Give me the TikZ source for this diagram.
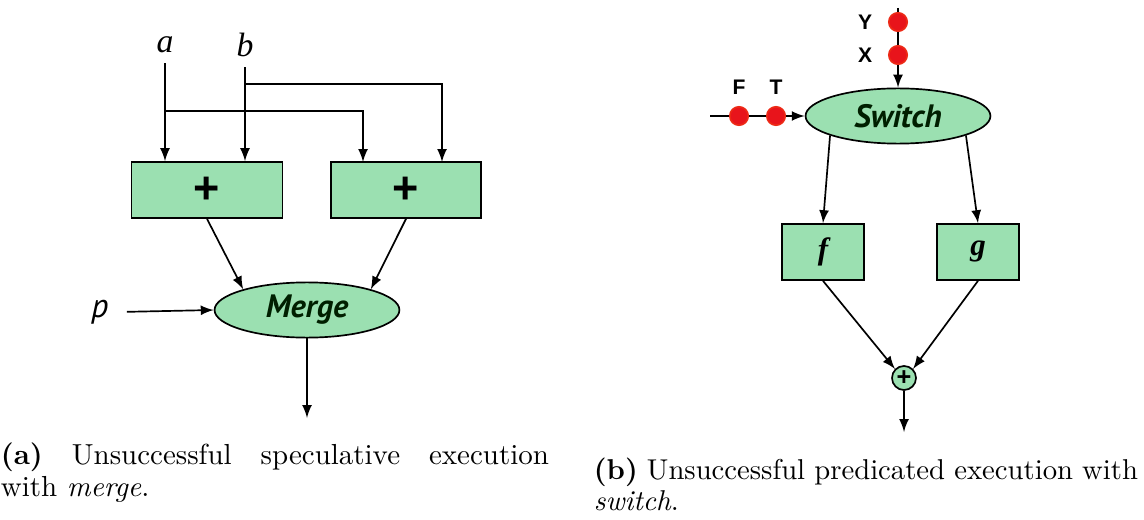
\documentclass[tikz,border=0pt]{standalone}
\usepackage{fontspec}
\usepackage{xcolor}
\usetikzlibrary{shapes.geometric}
\newfontfamily\arialfont{Liberation Sans}
\newfontfamily\timesfont{Liberation Serif}
\newfontfamily\opfont{PT Sans}
\definecolor{nodegreen}{HTML}{9BE0B1}
\definecolor{tokenred}{HTML}{E8141B}

\begin{document}
\begin{tikzpicture}[x=0.0125cm,y=-0.0125cm,line width=0.6pt,
    opbox/.style={draw,fill=nodegreen,minimum height=0.7cm,inner sep=0pt},
    opellipse/.style={draw,fill=nodegreen,ellipse,minimum width=2.31cm,minimum height=0.69cm,inner sep=0pt,text=green!12!black,font=\opfont\bfseries\itshape\fontsize{11.5}{12}\selectfont},
    token/.style={circle,fill=tokenred,draw=tokenred!80!orange,minimum size=0.23cm,inner sep=0pt},
    tokenlabel/.style={font=\arialfont\bfseries\fontsize{7.5}{8}\selectfont},
    caption/.style={anchor=north west,inner sep=0pt,align=justify}]
        \useasboundingbox (0,0) rectangle (1144,520);

        % (a) speculative execution with merge
        \node[font=\timesfont\itshape\fontsize{12}{13}\selectfont] (a) at (165,45) {a};
        \node[font=\timesfont\itshape\fontsize{12}{13}\selectfont] (b) at (245,45) {b};
        \node[opbox,minimum width=1.89cm,font=\arialfont\bfseries\fontsize{16}{17}\selectfont] (add1) at (207,190) {+};
        \node[opbox,minimum width=1.88cm,font=\arialfont\bfseries\fontsize{16}{17}\selectfont] (add2) at (406,190) {+};
        \node[opellipse] (merge) at (307,310) {Merge};
        \node[font=\opfont\itshape\fontsize{12}{13}\selectfont] (p) at (100,312) {p};
        \coordinate (ja) at (165,111);
        \coordinate (jb) at (246,84);
        \coordinate (in2a) at (363,162);
        \coordinate (in2b) at (442,162);
        \coordinate (mout) at (307,418);

        \draw[-latex] (a.south) -- (a.south |- add1.north);
        \draw[-latex] (b.south) -- (b.south |- add1.north);
        \draw[-latex] (ja) -| (in2a);
        \draw[-latex] (jb) -| (in2b);
        \draw[-latex] (add1.south) -- (merge.162);
        \draw[-latex] (add2.south) -- (merge.18);
        \draw[-latex,shorten <=0.1cm] (p.east) -- (merge.west);
        \draw[-latex] (merge.south) -- (mout);

        % (b) predicated execution with switch
        \node[opellipse] (switch) at (898,116) {Switch};
        \coordinate (top) at (898,8);
        \coordinate (left) at (710,116);
        \node[token,label={[tokenlabel,label distance=0.07cm]left:Y}] (y) at (898,22) {};
        \node[token,label={[tokenlabel,label distance=0.07cm]left:X}] (x) at (898,55) {};
        \node[token,label={[tokenlabel,label distance=0.01cm]above:F}] (f0) at (739,116) {};
        \node[token,label={[tokenlabel,label distance=0.01cm]above:T}] (t0) at (776,116) {};
        \node[opbox,minimum width=1.03cm,font=\timesfont\bfseries\itshape\fontsize{11}{12}\selectfont] (f) at (823,252) {f};
        \node[opbox,minimum width=1.02cm,font=\timesfont\bfseries\itshape\fontsize{11}{12}\selectfont] (g) at (978,252) {g};
        \node[circle,draw,fill=nodegreen,minimum size=0.3cm,inner sep=0pt,font=\arialfont\bfseries\fontsize{9}{10}\selectfont] (plus) at (904,378) {+};
        \coordinate (pout) at (904,432);

        \draw (top) -- (y);
        \draw (y) -- (x);
        \draw[-latex] (x) -- (switch.north);
        \draw (left) -- (f0);
        \draw (f0) -- (t0);
        \draw[-latex] (t0) -- (switch.west);
        \draw[-latex] (switch.196) -- (f.north);
        \draw[-latex] (switch.-16) -- (g.north);
        \draw[-latex] (f.south) -- (plus.135);
        \draw[-latex] (g.south) -- (plus.45);
        \draw[-latex] (plus.south) -- (pout);

        % captions
        \node[caption,text width=6.85cm] (capa) at (0,442) {\fontsize{10.3}{11.3}\selectfont\textbf{(a)} Unsuccessful speculative execution\linebreak with \textit{merge}.\par};
        \node[caption,text width=6.8cm] (capb) at (593,457) {\fontsize{10.2}{10.9}\selectfont\textbf{(b)} Unsuccessful predicated execution with\linebreak \textit{switch}.\par};
    \end{tikzpicture}
\end{document}
